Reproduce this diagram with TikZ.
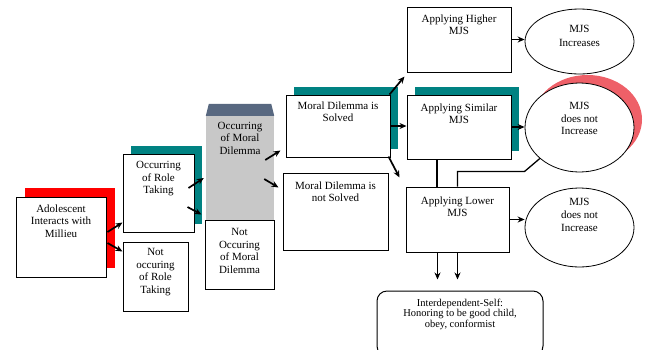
\documentclass[tikz,border=0pt]{standalone}
\usepackage{fontspec}
\setmainfont{Liberation Serif}
\usetikzlibrary{calc,shapes.geometric,arrows.meta,patterns,shadows}
\definecolor{shteal}{RGB}{0,130,130}
\definecolor{shpink}{RGB}{238,96,104}
\definecolor{bevel}{RGB}{88,104,128}
\definecolor{boxgray}{RGB}{200,200,200}
\begin{document}
\begin{tikzpicture}[x=1pt,y=-1pt,>={Stealth[length=7pt,width=6pt]},
  box/.style={draw,line width=1pt,fill=white,inner sep=0},
  oval/.style={ellipse,draw,line width=.8pt,fill=white,inner sep=0},
  txt/.style={align=center,inner sep=0,anchor=north,font=\fontsize{11}{12.5}\selectfont},
  arr/.style={->,line width=1.7pt},
  conn/.style={line width=1.3pt},
  redshadow/.style={general shadow={fill=red,shadow xshift=9pt,shadow yshift=9pt}},
  tealshadow/.style={general shadow={fill=shteal,shadow xshift=8pt,shadow yshift=8pt}},
  pinkshadow/.style={general shadow={fill=shpink,shadow xshift=8pt,shadow yshift=8pt}}]
\clip (0,0) rectangle (645,349);
% first column
\node[box,redshadow,minimum width=90,minimum height=80] (adol) at (61,237) {};
\node[txt] (adolT) at ($(adol.north)+(0,8)$) {Adolescent\\Interacts with\\Millieu};
\node[box,tealshadow,minimum width=71,minimum height=78] (roleY) at (158.5,193) {};
\node[txt] (roleYT) at ($(roleY.north)+(0,8)$) {Occurring\\of Role\\Taking};
\node[box,minimum width=65,minimum height=69] (roleN) at (155.5,276.5) {};
\node[txt] (roleNT) at ($(roleN.north)+(0,7)$) {Not\\occuring\\of Role\\Taking};
% moral dilemma
\node[fill=boxgray,inner sep=0,minimum width=68,minimum height=104] (mdY) at (240,168) {};
\fill[bevel] (mdY.north west) -- ++(3,-12) -- ($(mdY.north east)+(-3,-12)$) -- (mdY.north east) -- cycle;
\node[txt] (mdYT) at ($(mdY.north)+(0,6)$) {Occurring\\of Moral\\Dilemma};
\node[box,minimum width=69,minimum height=69] (mdN) at (239.5,254.5) {};
\node[txt] (mdNT) at ($(mdN.north)+(0,9)$) {Not\\Occuring\\of Moral\\Dilemma};
\node[box,tealshadow,minimum width=104,minimum height=62] (solY) at (338,126) {};
\node[txt] (solYT) at ($(solY.north)+(0,7)$) {Moral Dilemma is\\Solved};
\node[box,minimum width=105,minimum height=77] (solN) at (335.5,211.5) {};
\node[txt] (solNT) at ($(solN.north)+(0,9)$) {Moral Dilemma is\\not Solved};
% MJS
\node[box,minimum width=104,minimum height=65] (high) at (459,39.5) {};
\node[txt] (highT) at ($(high.north)+(0,8)$) {Applying Higher\\MJS};
\node[box,tealshadow,minimum width=104,minimum height=64] (sim) at (459,127) {};
\node[txt] (simT) at ($(sim.north)+(0,9)$) {Applying Similar\\MJS};
\node[box,minimum width=103,minimum height=65] (low) at (457.5,219.5) {};
\node[txt] (lowT) at ($(low.north)+(0,10)$) {Applying Lower\\MJS};
\node[oval,minimum width=109,minimum height=65] (e1) at (579.5,41.5) {};
\node[txt,font=\fontsize{11}{13.5}\selectfont] (e1T) at ($(e1.center)+(0,-16)$) {MJS\\Increases};
\node[oval,pinkshadow,minimum width=109,minimum height=89] (e2) at (579.5,127.5) {};
\node[txt,font=\fontsize{11}{12.5}\selectfont] (e2T) at ($(e2.center)+(0,-25)$) {MJS\\does not\\Increase};
\node[oval,minimum width=109,minimum height=79] (e3) at (579.5,227.5) {};
\node[txt,font=\fontsize{11}{13}\selectfont] (e3T) at ($(e3.center)+(0,-29)$) {MJS\\does not\\Increase};
\node[box,rounded corners=10pt,minimum width=166,minimum height=65] (inter) at (460,323.5) {};
\node[txt,font=\fontsize{10.5}{10.5}\selectfont] (interT) at ($(inter.north)+(0,8)$) {Interdependent-Self:\\Honoring to be good child,\\obey, conformist};
% connectors
\draw[arr] ($(adol.east)+(1,-5)$) -- ($(roleY.south west)+(0,-10)$);
\draw[arr] ($(adol.east)+(1,6)$) -- ($(roleN.north west)+(0,10)$);
\draw[arr] ($(roleY.east)+(-6,-5)$) -- ($(mdY.west)+(-2,10)$);
\draw[arr] ($(roleY.east)+(-7,14)$) -- ($(mdN.north west)+(-3,-5)$);
\draw[arr] ($(mdY.east)+(-9,-8)$) -- ($(solY.south west)+(-5,-7)$);
\draw[arr] ($(mdY.east)+(-10,11)$) -- ($(solN.north west)+(-4,15)$);
\draw[arr] ($(solY.north east)+(-1,0)$) -- ($(high.south west)+(-2,4)$);
\draw[arr] (solY.east) -- (solY.east -| sim.west);
\draw[arr] ($(solY.south east)+(-2,-1)$) -- ($(low.north west)+(-6,-9)$);
\draw[arr] (high.east) -- (high.east -| e1.west);
\draw[arr] (sim.east) -- (sim.east -| e2.west);
\draw[arr] (low.east) -- (low.east -| e3.west);
\coordinate (simL) at ($(sim.south)+(-22,0)$);
\draw[conn] (simL) -- (simL |- low.north);
\draw[conn] (low.north) -- ++(0,-15) -- ++(67,0) -- (e2.218);
\coordinate (lowL) at ($(low.south)+(-20,0)$);
\draw[arr,shorten >=11pt] (lowL) -- (lowL |- inter.north);
\draw[arr,shorten >=11pt] (low.south) -- (low.south |- inter.north);
\end{tikzpicture}
\end{document}
